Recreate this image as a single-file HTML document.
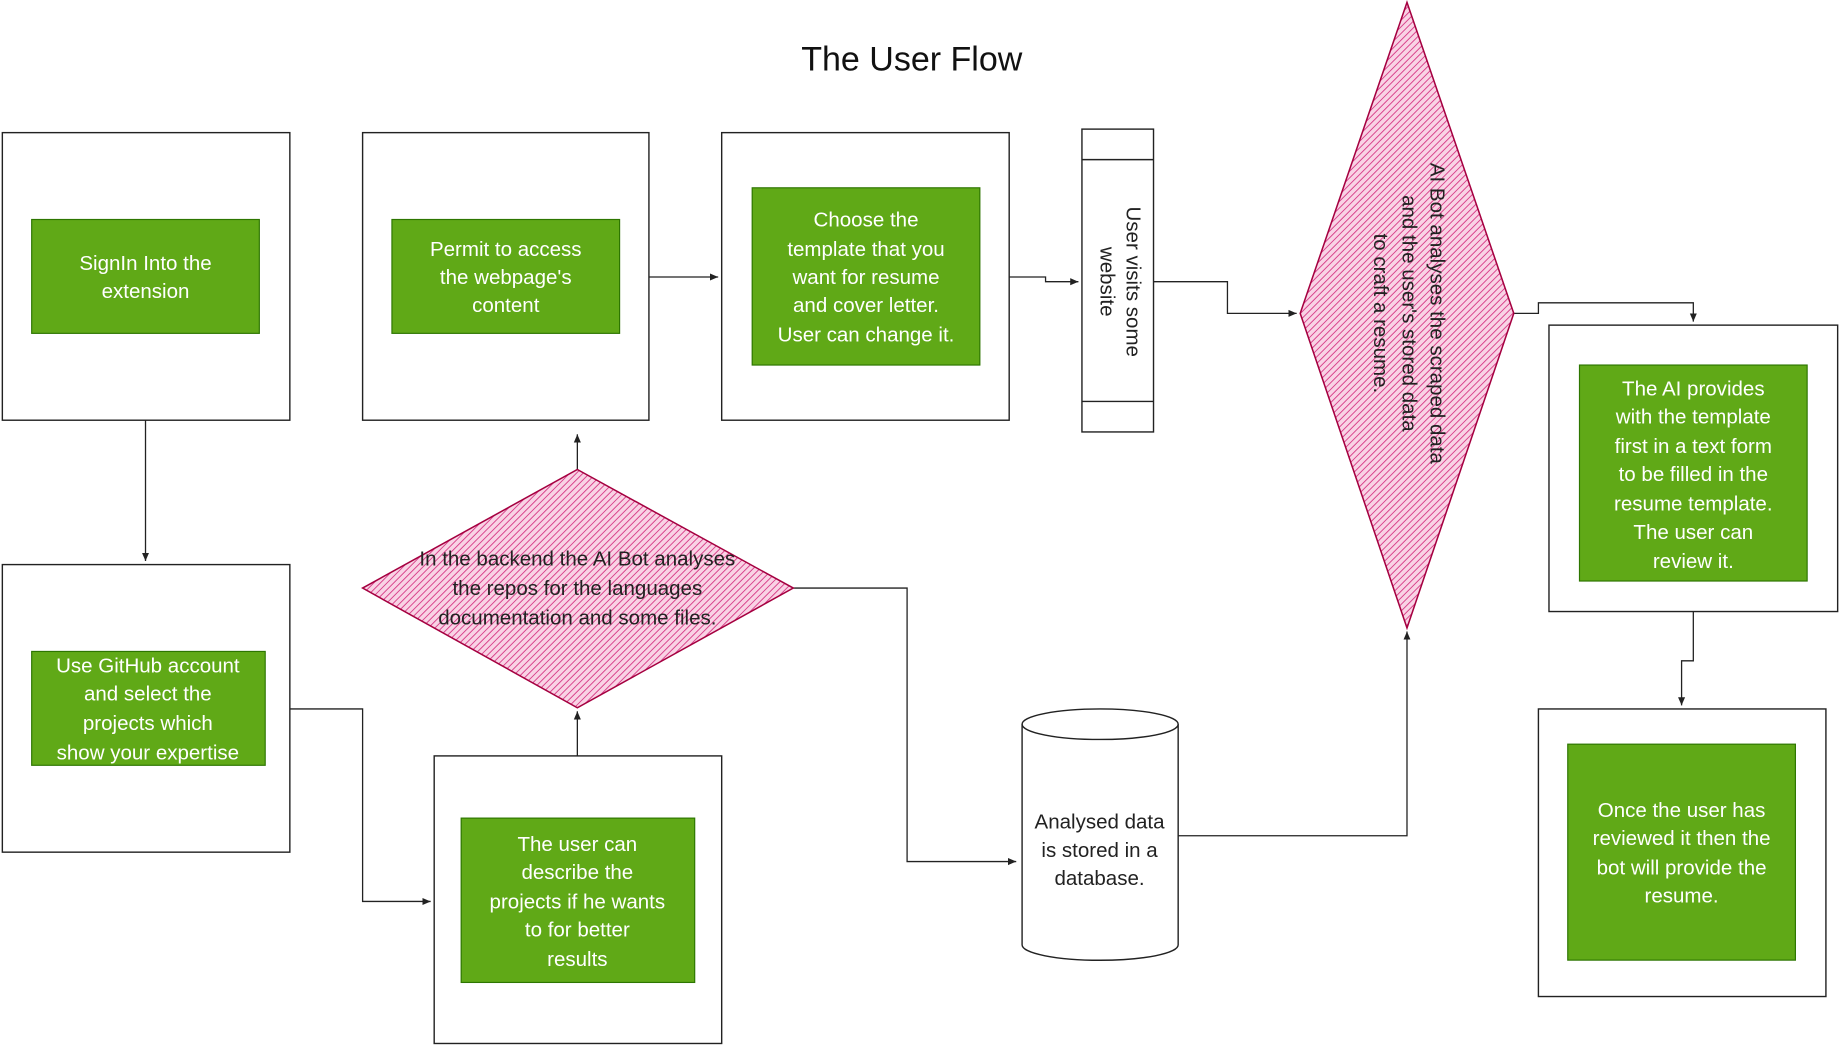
<!DOCTYPE html>
<html><head><meta charset="utf-8"><style>
html,body{margin:0;padding:0;background:#fff;}
svg{display:block;}
text{font-family:"Liberation Sans",sans-serif;}
.g{fill:#60a917;stroke:#2d7600;stroke-width:1;}
.b{fill:none;stroke:#222;stroke-width:1.2;}
.w{fill:#fff;font-size:17.5px;text-anchor:middle;}
.k{fill:#222;font-size:17.5px;text-anchor:middle;}
.e{fill:none;stroke:#222;stroke-width:1.1;}
</style></head><body>
<svg width="1840" height="1047" viewBox="0 0 1568 892" preserveAspectRatio="none" xmlns="http://www.w3.org/2000/svg">
<defs>
<pattern id="h" patternUnits="userSpaceOnUse" width="4" height="4" patternTransform="rotate(45)">
<rect width="4" height="4" fill="#f9d3e5"/>
<line x1="0" y1="0" x2="0" y2="4" stroke="#d8408a" stroke-width="1.6"/>
</pattern>
<marker id="a" markerWidth="8" markerHeight="8" refX="7" refY="4" orient="auto" markerUnits="userSpaceOnUse">
<path d="M0,1 L7,4 L0,7 Z" fill="#222"/>
</marker>
</defs>
<text x="777" y="60" style="font-size:29px;text-anchor:middle;fill:#111">The User Flow</text>

<path class="e" d="M124,358 V478" marker-end="url(#a)"/>
<path class="e" d="M247,604 H309 V768 H367" marker-end="url(#a)"/>
<path class="e" d="M492,644 V606" marker-end="url(#a)"/>
<path class="e" d="M492,400 V370" marker-end="url(#a)"/>
<path class="e" d="M676,501 H773 V734 H866" marker-end="url(#a)"/>
<path class="e" d="M553,236 H612" marker-end="url(#a)"/>
<path class="e" d="M860,236 H891 V240 H919" marker-end="url(#a)"/>
<path class="e" d="M983,240 H1046 V267 H1105" marker-end="url(#a)"/>
<path class="e" d="M1004,712 H1199 V538" marker-end="url(#a)"/>
<path class="e" d="M1290,267 H1311 V258 H1443 V274" marker-end="url(#a)"/>
<path class="e" d="M1443,521 V563 H1433 V601" marker-end="url(#a)"/>

<rect class="b" x="2" y="113" width="245" height="245"/>
<rect class="g" x="27" y="187" width="194" height="97"/>
<text class="w" x="124" y="230">SignIn Into the</text>
<text class="w" x="124" y="254">extension</text>

<rect class="b" x="309" y="113" width="244" height="245"/>
<rect class="g" x="334" y="187" width="194" height="97"/>
<text class="w" x="431" y="218">Permit to access</text>
<text class="w" x="431" y="242">the webpage's</text>
<text class="w" x="431" y="266">content</text>

<rect class="b" x="615" y="113" width="245" height="245"/>
<rect class="g" x="641" y="160" width="194" height="151"/>
<text class="w" x="738" y="193">Choose the</text>
<text class="w" x="738" y="218">template that you</text>
<text class="w" x="738" y="242">want for resume</text>
<text class="w" x="738" y="266">and cover letter.</text>
<text class="w" x="738" y="291">User can change it.</text>

<rect class="b" x="922" y="110" width="61" height="258"/>
<line class="b" x1="922" y1="136" x2="983" y2="136"/>
<line class="b" x1="922" y1="342" x2="983" y2="342"/>
<text class="k" transform="translate(952,240) rotate(90)"><tspan x="0" y="-8">User visits some</tspan><tspan x="0" y="14">website</tspan></text>

<polygon points="1199,2 1290,267 1199,535 1108,267" fill="url(#h)" stroke="#a50040" stroke-width="1.3"/>
<text class="k" transform="translate(1199,267) rotate(90)"><tspan x="0" y="-20">AI Bot analyses the scraped data</tspan><tspan x="0" y="4">and the user's stored data</tspan><tspan x="0" y="28">to craft a resume.</tspan></text>

<rect class="b" x="1320" y="277" width="246" height="244"/>
<rect class="g" x="1346" y="311" width="194" height="184"/>
<text class="w" x="1443" y="337">The AI provides</text>
<text class="w" x="1443" y="361">with the template</text>
<text class="w" x="1443" y="386">first in a text form</text>
<text class="w" x="1443" y="410">to be filled in the</text>
<text class="w" x="1443" y="435">resume template.</text>
<text class="w" x="1443" y="459">The user can</text>
<text class="w" x="1443" y="484">review it.</text>

<rect class="b" x="1311" y="604" width="245" height="245"/>
<rect class="g" x="1336" y="634" width="194" height="184"/>
<text class="w" x="1433" y="696">Once the user has</text>
<text class="w" x="1433" y="720">reviewed it then the</text>
<text class="w" x="1433" y="745">bot will provide the</text>
<text class="w" x="1433" y="769">resume.</text>

<rect class="b" x="2" y="481" width="245" height="245"/>
<rect class="g" x="27" y="555" width="199" height="97"/>
<text class="w" x="126" y="573">Use GitHub account</text>
<text class="w" x="126" y="597">and select the</text>
<text class="w" x="126" y="622">projects which</text>
<text class="w" x="126" y="647">show your expertise</text>

<polygon points="492,400 676,501 492,603 309,501" fill="url(#h)" stroke="#a50040" stroke-width="1.3"/>
<text class="k" x="492" y="482">In the backend the AI Bot analyses</text>
<text class="k" x="492" y="507">the repos for the languages</text>
<text class="k" x="492" y="532">documentation and some files.</text>

<rect class="b" x="370" y="644" width="245" height="245"/>
<rect class="g" x="393" y="697" width="199" height="140"/>
<text class="w" x="492" y="725">The user can</text>
<text class="w" x="492" y="749">describe the</text>
<text class="w" x="492" y="774">projects if he wants</text>
<text class="w" x="492" y="798">to for better</text>
<text class="w" x="492" y="823">results</text>

<path class="b" d="M871,617 V805 A66,13 0 0 0 1004,805 V617"/>
<ellipse class="b" cx="937.5" cy="617" rx="66.5" ry="13"/>
<text class="k" x="937" y="706">Analysed data</text>
<text class="k" x="937" y="730">is stored in a</text>
<text class="k" x="937" y="754">database.</text>
</svg>
</body></html>
